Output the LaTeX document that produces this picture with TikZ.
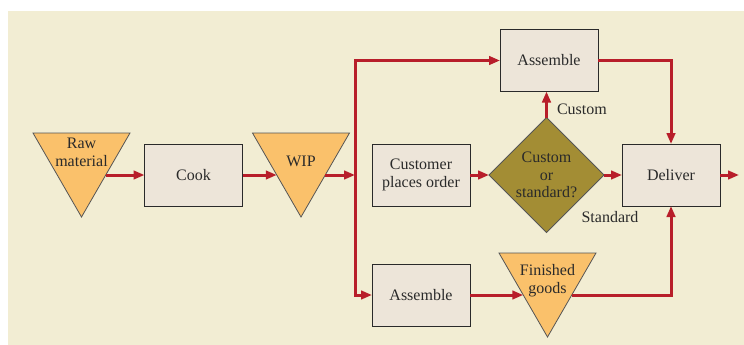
\documentclass[tikz,border=0pt]{standalone}
\usepackage{fontspec}
\setmainfont{Liberation Serif}
\usetikzlibrary{shapes.geometric,arrows.meta}

\definecolor{paper}{HTML}{F2EDD3}
\definecolor{boxfill}{HTML}{EDE5D9}
\definecolor{stockfill}{HTML}{FAC16B}
\definecolor{decisionfill}{HTML}{A38D34}
\definecolor{flowred}{HTML}{B81E2A}
\definecolor{ink}{HTML}{2A2A2A}

\tikzset{
  every node/.style={text=ink, font=\fontsize{16}{18}\selectfont},
  process/.style={draw=ink, line width=0.9pt, fill=boxfill, minimum width=98pt,
    minimum height=62pt, inner sep=0pt, outer sep=0pt, align=center},
  stock/.style={draw=ink!80, line width=0.8pt, fill=stockfill, regular polygon,
    regular polygon sides=3, shape border rotate=180, minimum size=112pt,
    inner sep=0pt, outer sep=0pt},
  decision/.style={draw=ink!80, line width=0.8pt, fill=decisionfill, diamond,
    minimum width=115pt, minimum height=115pt, inner sep=0pt, outer sep=0pt,
    align=center, font=\fontsize{16}{17.5}\selectfont},
  caption/.style={align=center, inner sep=0pt},
  flow/.style={draw=flowred, line width=3pt, -{Triangle[length=11pt,width=8.5pt]}},
}

\begin{document}
\begin{tikzpicture}[x=1pt,y=-1pt]
  \useasboundingbox (0,0) rectangle (744,345);
  \fill[paper] (8,11) rectangle (744,345);

  % stocks and processes
  \node[stock] (raw) at (81.5,161) {};
  \node[caption] (rawtxt) at ([yshift=9pt]raw.center) {Raw\\material};
  \node[process] (cook) at (193.5,175) {Cook};
  \node[stock] (wip) at (301,161) {};
  \node[caption] (wiptxt) at (wip.center) {WIP};
  \coordinate (split) at (355,175);

  \node[process] (asmtop) at (549,60.5) {Assemble};
  \node[process] (cust) at (421,175) {Customer\\places order};
  \node[decision] (dec) at (546.5,175) {Custom\\or\\standard?};
  \node[process] (deliver) at (671,175) {Deliver};
  \coordinate (out) at (739,175);

  \node[process] (asmbot) at (421,295) {Assemble};
  \node[stock] (fg) at (547.5,281) {};
  \node[caption] (fgtxt) at (fg.center) {Finished\\goods};

  % flows
  \draw[flow] (raw.side 1) -- (raw.side 1 -| cook.west);
  \draw[flow] (cook.east) -- (cook.east -| wip.side 3);
  \draw[flow] (wip.side 1) -- (split);
  \draw[flow] (split) |- (asmtop.west);
  \draw[flow] (split) |- (asmbot.west);

  \draw[flow] (cust.east) -- (dec.west);
  \draw[flow] (dec.east) -- (deliver.west);
  \draw[flow] (dec.north) -- (dec.north |- asmtop.south)
    node[caption, pos=0.3, anchor=west, xshift=9pt] (customlbl) {Custom};
  \node[caption] (stdlbl) at (610,217) {Standard};
  \draw[flow] (asmtop.east) -| (deliver.north);
  \draw[flow] (deliver.east) -- (out);

  \draw[flow] (asmbot.east) -- (asmbot.east -| fg.side 3);
  \draw[flow] (fg.side 1) -| (deliver.south);
\end{tikzpicture}
\end{document}
